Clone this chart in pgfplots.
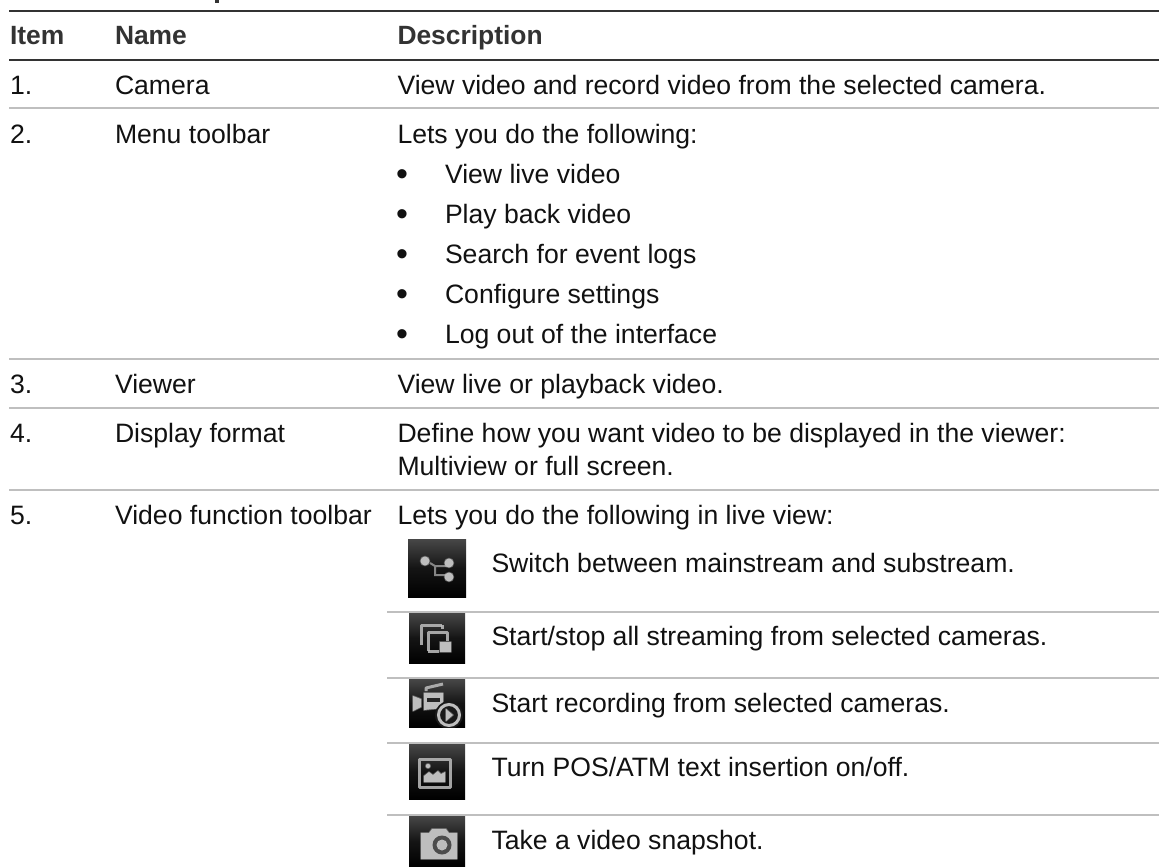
\documentclass[border=0pt]{standalone}
\usepackage{fontspec}
\setmainfont{Liberation Sans}
\usepackage{pgfplots}
\pgfplotsset{compat=1.18}
\definecolor{rk}{HTML}{333333}
\definecolor{rg}{HTML}{BFBFBF}
\definecolor{txt}{HTML}{111111}
\definecolor{ic}{HTML}{BEBEBE}
\tikzset{t/.style={font=\fontsize{26.6pt}{30pt}\selectfont, text=txt, anchor=base west, inner sep=0pt, outer sep=0pt},
 b/.style={font=\fontsize{34pt}{34pt}\selectfont, text=txt, anchor=base west, inner sep=0pt, outer sep=0pt},
 h/.style={font=\fontsize{26.4pt}{30pt}\selectfont\bfseries, text=rk, anchor=base west, inner sep=0pt, outer sep=0pt},
 g/.style={fill=ic, draw=ic, draw opacity=.4, line width=1.6pt, line join=round},
 l/.style={draw=ic, line width=3pt, line join=round, opacity=.85}}
\begin{document}
\begin{tikzpicture}
\useasboundingbox (0,0) rectangle (1159pt,867pt);
\clip (0,0) rectangle (1159pt,867pt);
\begin{axis}[hide axis, scale only axis, width=1159pt, height=867pt,
  xmin=0, xmax=1159, ymin=0, ymax=867, y dir=reverse, clip=false]
% rules
\addplot[rk, line width=2.2pt, forget plot] coordinates {(9,11) (1159,11)};
\addplot[rk, line width=2.2pt, forget plot] coordinates {(9,60) (1159,60)};
\addplot[rg, line width=2pt, forget plot] coordinates {(9,108) (1159,108)};
\addplot[rg, line width=2pt, forget plot] coordinates {(9,359) (1159,359)};
\addplot[rg, line width=2pt, forget plot] coordinates {(9,408) (1159,408)};
\addplot[rg, line width=2pt, forget plot] coordinates {(9,490) (1159,490)};
\addplot[rg, line width=2pt, forget plot] coordinates {(387,612) (1159,612)};
\addplot[rg, line width=2pt, forget plot] coordinates {(387,678) (1159,678)};
\addplot[rg, line width=2pt, forget plot] coordinates {(387,743) (1159,743)};
\addplot[rg, line width=2pt, forget plot] coordinates {(387,815) (1159,815)};
\addplot[rk, fill=rk, forget plot] coordinates {(215,0) (218,0) (218,2) (215,2)} -- cycle;
% header
\node[h] at (axis cs:10,44.5) {Item};
\node[h] at (axis cs:115,44.5) {Name};
\node[h] at (axis cs:397.5,44.5) {Description};
% rows
\node[t] at (axis cs:10,94) {1.};
\node[t] at (axis cs:115,94) {Camera};
\node[t] at (axis cs:397.5,94) {View video and record video from the selected camera.};
\node[t] at (axis cs:10,143) {2.};
\node[t] at (axis cs:115,143) {Menu toolbar};
\node[t] at (axis cs:397.5,143) {Lets you do the following:};
\node[b] at (axis cs:396,185.6) {•}; \node[t] at (axis cs:445,183) {View live video};
\node[b] at (axis cs:396,225.6) {•}; \node[t] at (axis cs:445,223) {Play back video};
\node[b] at (axis cs:396,265.6) {•}; \node[t] at (axis cs:445,263) {Search for event logs};
\node[b] at (axis cs:396,305.6) {•}; \node[t] at (axis cs:445,303) {Configure settings};
\node[b] at (axis cs:396,345.6) {•}; \node[t] at (axis cs:445,343) {Log out of the interface};
\node[t] at (axis cs:10,393) {3.};
\node[t] at (axis cs:115,393) {Viewer};
\node[t] at (axis cs:397.5,393) {View live or playback video.};
\node[t] at (axis cs:10,442) {4.};
\node[t] at (axis cs:115,442) {Display format};
\node[t] at (axis cs:397.5,442) {Define how you want video to be displayed in the viewer:};
\node[t] at (axis cs:397.5,475) {Multiview or full screen.};
\node[t] at (axis cs:10,524) {5.};
\node[t] at (axis cs:115,524) {Video function toolbar};
\node[t] at (axis cs:397.5,524) {Lets you do the following in live view:};
\node[t] at (axis cs:491.5,572) {Switch between mainstream and substream.};
\node[t] at (axis cs:491.5,645) {Start/stop all streaming from selected cameras.};
\node[t] at (axis cs:491.5,712) {Start recording from selected cameras.};
\node[t] at (axis cs:491.5,776) {Turn POS/ATM text insertion on/off.};
\node[t] at (axis cs:491.5,849) {Take a video snapshot.};
% icons
\shade[top color=black!72, bottom color=black, middle color=black!92] (axis cs:408,539) rectangle (axis cs:466,597);
\shade[top color=black!72, bottom color=black, middle color=black!92] (axis cs:409,613) rectangle (axis cs:465,663);
\shade[top color=black!72, bottom color=black, middle color=black!92] (axis cs:409,679) rectangle (axis cs:465,727);
\shade[top color=black!72, bottom color=black, middle color=black!92] (axis cs:409,744) rectangle (axis cs:465,799);
\shade[top color=black!72, bottom color=black, middle color=black!92] (axis cs:409,816) rectangle (axis cs:465,867);
% icon 1
\draw[ic!70!black, line width=2pt] (axis cs:430,563) -- (axis cs:435,566) -- (axis cs:435,575) -- (axis cs:447,575) (axis cs:435,566) -- (axis cs:447,566);
\fill[g] (axis cs:425,561) circle[radius=4.5pt];
\fill[g] (axis cs:449,563) circle[radius=4.5pt];
\fill[g] (axis cs:449,577) circle[radius=4.5pt];
% icon 2
\path[l] (axis cs:421.5,645) -- (axis cs:421.5,625) -- (axis cs:442,625);
\path[l] (axis cs:442,625) -- (axis cs:442,629);
\path[l] (axis cs:428,651) -- (axis cs:428,632) -- (axis cs:447,632) -- (axis cs:447,641);
\path[l] (axis cs:428,651) -- (axis cs:439,651);
\fill[g] (axis cs:440,642) rectangle (axis cs:451,652);
% icon 3
\fill[g] (axis cs:424,693) -- (axis cs:443,693) -- (axis cs:443,708) -- (axis cs:424,710) -- cycle;
\fill[g] (axis cs:413,696) -- (axis cs:421,699) -- (axis cs:421,707) -- (axis cs:413,711) -- cycle;
\path[l] (axis cs:426,691) -- (axis cs:426,688) -- (axis cs:443,684);
\fill[black!85] (axis cs:427,698) rectangle (axis cs:440,702);
\begin{scope}
\clip (axis cs:409,679) rectangle (axis cs:465,727);
\fill[black!90] (axis cs:449,715) circle[radius=14pt];
\draw[ic, line width=3pt] (axis cs:449,715) circle[radius=10.5pt];
\end{scope}
\fill[g] (axis cs:446,709) -- (axis cs:453,715) -- (axis cs:446,721) -- cycle;
% icon 4
\path[l] (axis cs:419.5,759) rectangle (axis cs:450.5,787);
\fill[g] (axis cs:428,766) circle[radius=2.2pt];
\fill[g] (axis cs:424,782) -- (axis cs:424,776) -- (axis cs:429,772) -- (axis cs:433,775) -- (axis cs:438,771) -- (axis cs:441,774) -- (axis cs:445,772) -- (axis cs:445,782) -- cycle;
% icon 5
\fill[g] (axis cs:421,833) -- (axis cs:429,833) -- (axis cs:432,829) -- (axis cs:446,829) -- (axis cs:449,833) -- (axis cs:457,833) -- (axis cs:457,859) -- (axis cs:421,859) -- cycle;
\fill[black!70] (axis cs:442,845) circle[radius=9.5pt];
\fill[ic] (axis cs:442,845) circle[radius=5.5pt];
\end{axis}
\end{tikzpicture}
\end{document}
